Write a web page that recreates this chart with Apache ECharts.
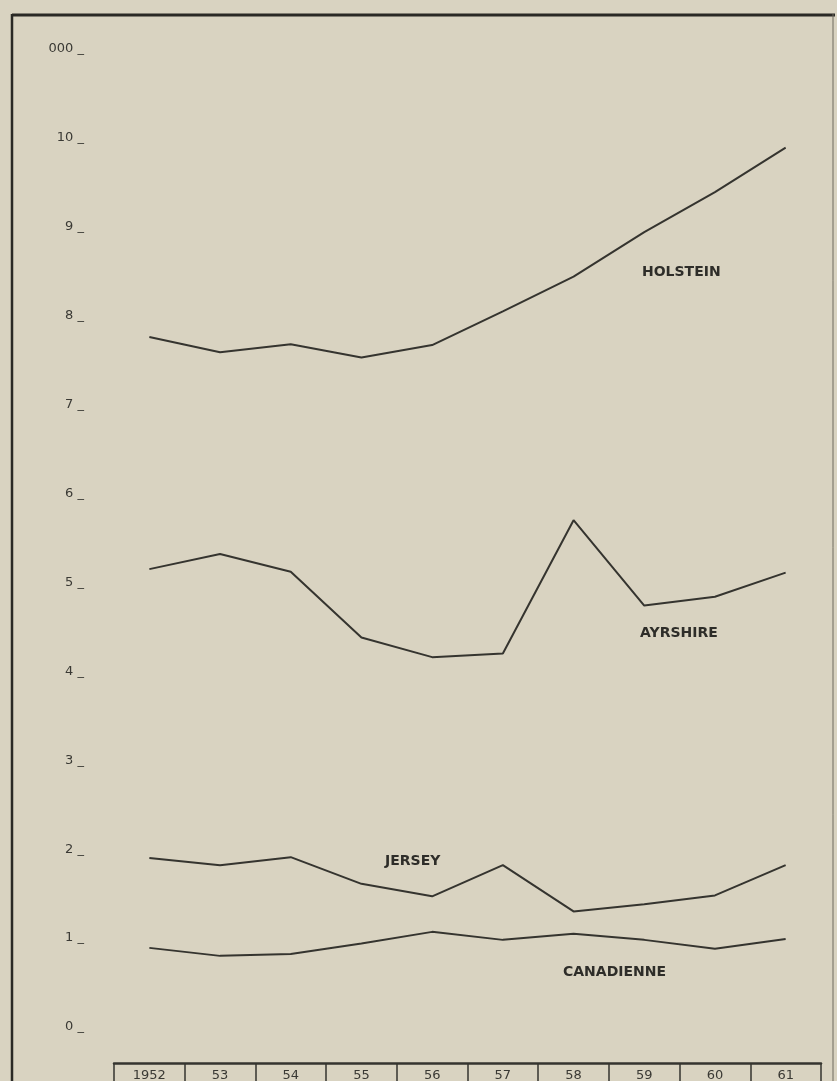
<!DOCTYPE html>
<html>
<head>
<meta charset="utf-8">
<script src="https://cdn.jsdelivr.net/npm/echarts@6/dist/echarts.min.js"></script>
<style>
html,body{margin:0;padding:0;background:#d9d3c1;}
#chart{width:837px;height:1081px;}
</style>
</head>
<body>
<div id="chart"></div>
<script>
const years = ['1952', '53', '54', '55', '56', '57', '58', '59', '60', '61'];
const holstein = [7.76, 7.59, 7.68, 7.53, 7.67, 8.05, 8.44, 8.94, 9.39, 9.89];
const ayrshire = [5.15, 5.32, 5.12, 4.38, 4.16, 4.20, 5.70, 4.74, 4.84, 5.11];
const jersey = [1.90, 1.82, 1.91, 1.61, 1.47, 1.82, 1.30, 1.38, 1.48, 1.82];
const canadienne = [0.89, 0.80, 0.82, 0.94, 1.07, 0.98, 1.05, 0.98, 0.88, 0.99];
const yTop = 11;
const yTopLabel = '000';

const ink = '#35342f';
const chart = echarts.init(document.getElementById('chart'), null, {renderer: 'canvas'});

function lineSeries(name, data) {
  return {
    name: name, type: 'line', data: data, showSymbol: false, symbol: 'none',
    lineStyle: {color: ink, width: 2}, silent: true, animation: false
  };
}

const labelStyle = {fill: '#2e2d29', font: 'bold 14px "DejaVu Sans", sans-serif'};

chart.setOption({
  backgroundColor: '#d9d3c1',
  animation: false,
  grid: {left: 114, right: 16, top: 49, bottom: 54, outerBoundsMode: 'none', containLabel: false},
  xAxis: {
    type: 'category', data: years, boundaryGap: true, position: 'bottom', offset: 36,
    axisLine: {show: true, onZero: false, lineStyle: {color: ink, width: 2.5}},
    axisTick: {show: true, inside: false, length: 22, alignWithLabel: false, lineStyle: {color: ink, width: 1.5}},
    axisLabel: {color: '#3a3934', fontSize: 13, fontFamily: 'DejaVu Sans', margin: 6},
    splitLine: {show: false}
  },
  yAxis: {
    type: 'value', min: 0, max: yTop, interval: 1,
    axisLine: {show: false}, axisTick: {show: false}, splitLine: {show: false},
    axisLabel: {
      color: '#3a3934', fontSize: 13, fontFamily: 'DejaVu Sans', margin: 30,
      formatter: function (v) { return (v === yTop ? yTopLabel : String(v)) + ' _'; }
    }
  },
  series: [
    lineSeries('HOLSTEIN', holstein),
    lineSeries('AYRSHIRE', ayrshire),
    lineSeries('JERSEY', jersey),
    lineSeries('CANADIENNE', canadienne)
  ],
  graphic: [
    {type: 'line', shape: {x1: 12, y1: 15, x2: 835, y2: 15}, style: {stroke: '#2a2925', lineWidth: 3}},
    {type: 'line', shape: {x1: 12, y1: 14, x2: 12, y2: 1081}, style: {stroke: '#2a2925', lineWidth: 2.5}},
    {type: 'line', shape: {x1: 833, y1: 14, x2: 833, y2: 1081}, style: {stroke: '#6e6a5e', lineWidth: 1}},
    {type: 'text', left: 642, top: 265, style: Object.assign({text: 'HOLSTEIN'}, labelStyle)},
    {type: 'text', left: 640, top: 626, style: Object.assign({text: 'AYRSHIRE'}, labelStyle)},
    {type: 'text', left: 385, top: 854, style: Object.assign({text: 'JERSEY'}, labelStyle)},
    {type: 'text', left: 563, top: 965, style: Object.assign({text: 'CANADIENNE'}, labelStyle)}
  ]
});
</script>
</body>
</html>
